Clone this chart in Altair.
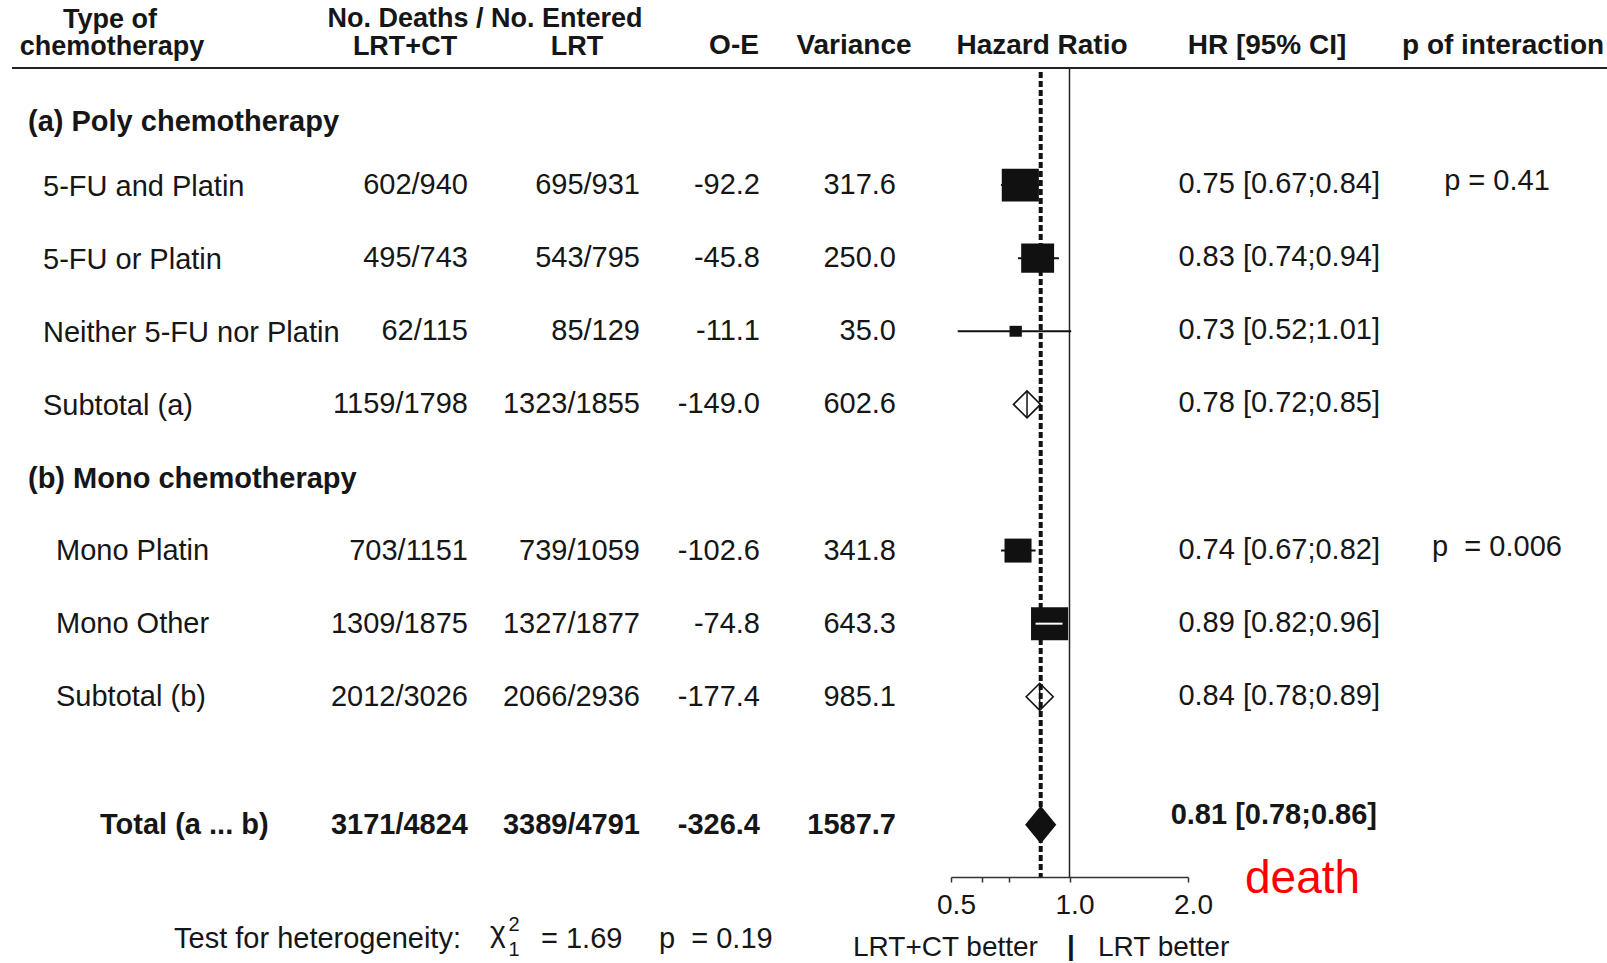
import altair as alt
import pandas as pd

# ---------------- data ----------------
labels = ["(a) Poly chemotherapy", "5-FU and Platin", "5-FU or Platin",
          "Neither 5-FU nor Platin", "Subtotal (a)", "(b) Mono chemotherapy",
          "Mono Platin", "Mono Other", "Subtotal (b)", "Total (a ... b)"]
kinds = ["group", "study", "study", "study", "subtotal",
         "group", "study", "study", "subtotal", "total"]
groups = ["a", "a", "a", "a", "a", "b", "b", "b", "b", "all"]
rows = [0, 1, 2, 3, 4, 5, 6, 7, 8, 9.75]
lrt_ct = ["", "602/940", "495/743", "62/115", "1159/1798",
          "", "703/1151", "1309/1875", "2012/3026", "3171/4824"]
lrt = ["", "695/931", "543/795", "85/129", "1323/1855",
       "", "739/1059", "1327/1877", "2066/2936", "3389/4791"]
o_e = [None, -92.2, -45.8, -11.1, -149.0, None, -102.6, -74.8, -177.4, -326.4]
variance = [None, 317.6, 250.0, 35.0, 602.6, None, 341.8, 643.3, 985.1, 1587.7]
hr = [None, 0.75, 0.83, 0.73, 0.78, None, 0.74, 0.89, 0.84, 0.81]
hr_lo = [None, 0.67, 0.74, 0.52, 0.72, None, 0.67, 0.82, 0.78, 0.78]
hr_hi = [None, 0.84, 0.94, 1.01, 0.85, None, 0.82, 0.96, 0.89, 0.86]
p_interaction = ["", "p = 0.41", "", "", "", "", "p\u00a0\u00a0= 0.006", "", "", ""]
hr_overall_drawn = 0.845   # position of the dashed overall line / total diamond as drawn
axis_values = [0.5, 0.6, 0.7, 1.0, 2.0]
axis_labels = [0.5, 1.0, 2.0]

header_line1 = ["Type of", "No. Deaths / No. Entered"]
header_line2 = ["chemotherapy", "LRT+CT", "LRT", "O-E", "Variance",
                "Hazard Ratio", "HR [95% CI]", "p of interaction"]

def fmt1(v):
    return "" if v is None else f"{v:.1f}"

df = pd.DataFrame({
    "label": labels, "kind": kinds, "group": groups, "row": rows,
    "lrt_ct": lrt_ct, "lrt": lrt,
    "oe": [fmt1(v) for v in o_e],
    "var_txt": [fmt1(v) for v in variance],
    "variance": variance, "hr": hr, "lo": hr_lo, "hi": hr_hi,
    "p": p_interaction,
})
df["ci_txt"] = [
    "" if h is None or pd.isna(h) else f"{h:.2f} [{l:.2f};{u:.2f}]"
    for h, l, u in zip(df["hr"], df["lo"], df["hi"])
]

FONT = "Liberation Sans"
TXT = "#161616"
FS = 29

xscale = alt.Scale(type="log", domain=[0.5, 2.0], range=[951, 1188], nice=False)
xaxis = alt.Axis(
    values=axis_values, title=None, grid=False, orient="bottom", offset=-86,
    labelExpr="indexof([" + ",".join(str(v) for v in axis_labels) + "], datum.value) >= 0 ? format(datum.value, '.1f') : ''",
    tickSize=5, tickWidth=1.5, tickColor="#333", domainColor="#333", domainWidth=1.5,
    labelFont=FONT, labelFontSize=28, labelColor=TXT, labelPadding=9, labelOffset=5,
    labelFlush=False, labelOverlap=False, labelBound=False,
)
yscale = alt.Scale(domain=[-1.532, 11.642], reverse=True, nice=False, zero=False)


def X(field):
    return alt.X(field, type="quantitative", scale=xscale, axis=xaxis)


def Y():
    return alt.Y("row:Q", scale=yscale, axis=None)


one = pd.DataFrame({"_": [0]})


def static(text, x, y, align="left", size=FS, bold=False, color=TXT, baseline="middle"):
    return alt.Chart(one).mark_text(
        text=text, align=align, baseline=baseline, font=FONT, fontSize=size,
        fontWeight="bold" if bold else "normal", color=color,
    ).encode(x=alt.value(x), y=alt.value(y))


def column(field, x, align, flt, bold=False, dy=0):
    return alt.Chart(df).transform_filter(flt).mark_text(
        align=align, baseline="middle", font=FONT, fontSize=FS, dy=dy,
        fontWeight="bold" if bold else "normal", color=TXT,
    ).encode(x=alt.value(x), y=Y(), text=f"{field}:N")


body = "datum.kind == 'study' || datum.kind == 'subtotal'"
tot = "datum.kind == 'total'"

layers = []

# header rule
layers.append(alt.Chart(one).mark_rule(color="#222", strokeWidth=2).encode(
    x=alt.value(12), x2=alt.value(1607), y=alt.value(68)))

# reference line at HR = 1
layers.append(alt.Chart(pd.DataFrame({"hr": [1.0]})).mark_rule(
    color="#222", strokeWidth=1.5).encode(x=X("hr"), y=alt.value(68), y2=alt.value(877)))

# dashed overall line
layers.append(alt.Chart(pd.DataFrame({"hr": [hr_overall_drawn]})).mark_rule(
    color="#111", strokeWidth=4, strokeDash=[6, 3]).encode(
    x=X("hr"), y=alt.value(72), y2=alt.value(877)))

# squares for individual strata (area ~ variance relative to group max)
layers.append(alt.Chart(df).transform_filter("datum.kind == 'study'").transform_joinaggregate(
    maxvar="max(variance)", groupby=["group"]).transform_calculate(
    w="datum.variance / datum.maxvar").mark_point(
    shape="M-1.06,-0.94H1.06V0.94H-1.06Z", filled=True, color="#111", opacity=1).encode(
    x=X("hr"), y=Y(),
    size=alt.Size("w:Q", scale=alt.Scale(domain=[0, 1], range=[0, 1225]), legend=None)))

# whiskers
layers.append(alt.Chart(df).transform_filter("datum.kind == 'study'").mark_rule(strokeWidth=2).encode(
    x=X("lo"), x2="hi:Q", y=Y(),
    color=alt.condition("datum.label == 'Mono Other'", alt.value("white"), alt.value("#111"))))

# subtotal diamonds (hollow) with centre stroke
layers.append(alt.Chart(df).transform_filter("datum.kind == 'subtotal'").mark_point(
    shape="diamond", filled=False, color="#111", strokeWidth=1.6, size=729, opacity=1).encode(
    x=X("hr"), y=Y()))
layers.append(alt.Chart(df).transform_filter("datum.kind == 'subtotal'").mark_point(
    shape="M0,-1L0,1", filled=False, color="#111", strokeWidth=1.5, size=700, opacity=1).encode(
    x=X("hr"), y=Y()))

# total diamond (filled)
layers.append(alt.Chart(pd.DataFrame({"hr": [hr_overall_drawn], "row": [rows[-1]]})).mark_point(
    shape="M0,-1L0.82,0L0,1L-0.82,0Z", filled=True, color="#111", size=1444, opacity=1).encode(
    x=X("hr"), y=Y()))

# column headers
layers += [
    static(header_line1[0], 110, 20, "center", 27, True),
    static(header_line1[1], 485, 19, "center", 27, True),
    static(header_line2[0], 112, 47, "center", 27, True),
    static(header_line2[1], 405, 47, "center", 27, True),
    static(header_line2[2], 577, 47, "center", 27, True),
    static(header_line2[3], 734, 46, "center", 28, True),
    static(header_line2[4], 854, 46, "center", 28, True),
    static(header_line2[5], 1042, 46, "center", 28, True),
    static(header_line2[6], 1267, 46, "center", 28, True),
    static(header_line2[7], 1402, 46, "left", 28, True),
]

# table body
layers += [
    column("label", 28, "left", "datum.kind == 'group' && datum.group == 'a'", bold=True, dy=10),
    column("label", 28, "left", "datum.kind == 'group' && datum.group == 'b'", bold=True, dy=2),
    column("label", 43, "left", f"({body}) && datum.group == 'a'", dy=2),
    column("label", 56, "left", f"({body}) && datum.group == 'b'"),
    column("label", 100, "left", tot, bold=True),
    column("lrt_ct", 468, "right", body),
    column("lrt_ct", 468, "right", tot, bold=True),
    column("lrt", 640, "right", body),
    column("lrt", 640, "right", tot, bold=True),
    column("oe", 760, "right", body),
    column("oe", 760, "right", tot, bold=True),
    column("var_txt", 896, "right", body),
    column("var_txt", 896, "right", tot, bold=True),
    column("ci_txt", 1380, "right", body, dy=-1),
    column("ci_txt", 1377, "right", tot, bold=True, dy=-10),
    column("p", 1497, "center", "datum.p != ''", dy=-4),
]

# footer texts
layers += [
    static("Test for heterogeneity:", 174, 939),
    static("\u03c7", 490, 933, "left", 30),
    static("2", 514, 925, "center", 20),
    static("1", 514, 950, "center", 20),
    static("= 1.69", 541, 939),
    static("p\u00a0\u00a0= 0.19", 659, 939),
    static("LRT+CT better", 853, 948, "left", 28),
    static("|", 1071, 947, "center", 28, True),
    static("LRT better", 1098, 948, "left", 28),
    static("death", 1245, 893, "left", 46, False, "#ff0000", "alphabetic"),
]

chart = alt.layer(*layers).properties(
    width=1607, height=963, padding=0, autosize=alt.AutoSizeParams(type="none"),
    background="white",
).configure_view(strokeWidth=0)

chart.save("out.html", embed_options={"renderer": "svg", "actions": False})
